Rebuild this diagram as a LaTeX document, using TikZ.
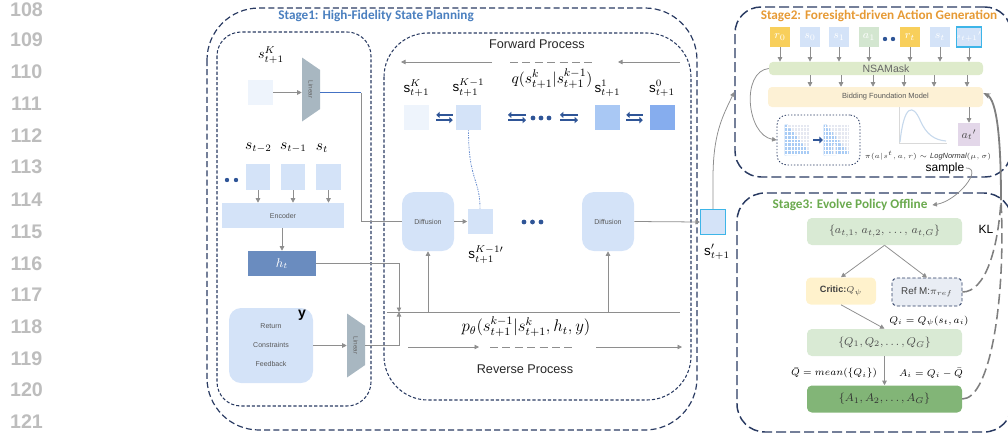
\documentclass[tikz,border=0pt]{standalone}
\usepackage{fontspec}
\setmainfont{Liberation Sans}
\newfontfamily\stagefont{Carlito}
\usepackage{amsmath,amssymb}
\usepackage{xcolor}
\usepackage{tikz}
\usetikzlibrary{arrows.meta,positioning,calc}

\definecolor{framenavy}{HTML}{2A3B62}
\definecolor{linkgray}{HTML}{8E8E8E}
\definecolor{linkblue}{HTML}{4472C4}
\definecolor{lngray}{HTML}{BDBDBD}
\definecolor{paleblue}{HTML}{EEF4FC}
\definecolor{lightblue}{HTML}{D4E3F8}
\definecolor{midblue}{HTML}{A9C8F4}
\definecolor{deepblue}{HTML}{86ADEE}
\definecolor{hblue}{HTML}{6A8CBF}
\definecolor{swapblue}{HTML}{2F5597}
\definecolor{linfill}{HTML}{A8B7C1}
\definecolor{cyanedge}{HTML}{3DB5E8}
\definecolor{tokyellow}{HTML}{F8CF5B}
\definecolor{tokgreen}{HTML}{D3E6D0}
\definecolor{maskgreen}{HTML}{DEEBCB}
\definecolor{bfmyellow}{HTML}{FDF1D5}
\definecolor{actpurple}{HTML}{E3D7E9}
\definecolor{gridgray}{HTML}{E5E8F1}
\definecolor{cellblue}{HTML}{A9CCF5}
\definecolor{criticyellow}{HTML}{FFF2CC}
\definecolor{refgray}{HTML}{E9EDF4}
\definecolor{setgreen}{HTML}{D9EAD4}
\definecolor{advgreen}{HTML}{82B577}
\definecolor{stageone}{HTML}{4A7FBF}
\definecolor{stagetwo}{HTML}{E69A35}
\definecolor{stagethree}{HTML}{6BAA4F}
\definecolor{curveblue}{HTML}{C7D9EC}
\definecolor{fbgray}{HTML}{7F7F7F}

\begin{document}
\begin{tikzpicture}[x=0.25mm, y=-0.25mm,
      font=\fontsize{9}{11}\selectfont,
      >={Triangle[length=3.2pt,width=3.2pt]},
      lnum/.style={font=\fontsize{14}{16}\selectfont\bfseries, text=lngray},
      stagetitle/.style={font=\stagefont\bfseries\fontsize{9.4}{11}\selectfont},
      outerframe/.style={draw=framenavy, line width=0.85pt, dash pattern=on 1.5mm off 0.8mm},
      innerframe/.style={draw=framenavy, line width=0.75pt, dash pattern=on 0.8mm off 0.5mm},
      stageframe/.style={draw=framenavy, line width=1.05pt, dash pattern=on 2.5mm off 1mm},
      sbox/.style={minimum width=6.25mm, minimum height=6.25mm, inner sep=0pt},
      hist/.style={fill=lightblue, minimum width=6.1mm, minimum height=6.5mm, inner sep=0pt},
      block/.style={fill=lightblue, inner sep=0pt, font=\fontsize{5}{6}\selectfont, text=black!65},
      linbox/.style={minimum width=4.5mm, minimum height=16mm, inner sep=0pt,
                     font=\fontsize{4.5}{5}\selectfont, text=black!60,
                     path picture={\fill[linfill] (path picture bounding box.north west)
                       -- ([yshift=-3.1mm]path picture bounding box.north east)
                       -- ([yshift=3.1mm]path picture bounding box.south east)
                       -- (path picture bounding box.south west) -- cycle;}},
      link/.style={draw=linkgray, line width=0.55pt},
      swapline/.style={draw=swapblue, line width=1.5pt, -{Triangle[length=2.4pt,width=4.4pt]}},
      tok/.style={minimum width=5mm, minimum height=5mm, inner sep=0pt, text=white,
                  font=\fontsize{8}{9}\selectfont},
      s3box/.style={fill=setgreen, rounded corners=1.2mm, minimum width=38.75mm,
                    minimum height=6.75mm, font=\fontsize{8}{9}\selectfont, text=black!70},
      eqlabel/.style={font=\fontsize{7}{8}\selectfont, inner sep=1pt},
      fbline/.style={draw=fbgray, line width=1.1pt, dash pattern=on 2.6mm off 1.2mm}]

  \useasboundingbox (0,0) rectangle (1008,438);
  \clip (0,0) rectangle (1008,438);

  % line numbers in the margin
  \node[lnum] (n108) at (26.5,9.5) {108};
  \node[lnum] (n109) at (26.5,40) {109};
  \node[lnum] (n110) at (26.5,71.5) {110};
  \node[lnum] (n111) at (26.5,104) {111};
  \node[lnum] (n112) at (26.5,135.5) {112};
  \node[lnum] (n113) at (26.5,167) {113};
  \node[lnum] (n114) at (26.5,199.5) {114};
  \node[lnum] (n115) at (26.5,232) {115};
  \node[lnum] (n116) at (26.5,264) {116};
  \node[lnum] (n117) at (26.5,295) {117};
  \node[lnum] (n118) at (26.5,326.5) {118};
  \node[lnum] (n119) at (26.5,358.5) {119};
  \node[lnum] (n120) at (26.5,390) {120};
  \node[lnum] (n121) at (26.5,422) {121};

  % ---------------- stage 1 ----------------
  \draw[outerframe, rounded corners=13mm] (207,8) rectangle (697,430);
  \draw[innerframe, rounded corners=6mm] (217,32) rectangle (371,406);
  \draw[innerframe, rounded corners=11mm] (384,33) rectangle (691,400);
  \node[stagetitle, text=stageone] (s1title) at (376,15.5) {Stage1: High-Fidelity State Planning};

  % history encoder column
  \node[font=\fontsize{10}{12}\selectfont] (skinlab) at (271,55) {$s_{t+1}^{K}$};
  \node[sbox, fill=paleblue] (skin) at (260.5,92.5) {};
  \node[linbox] (lin1) at (311,89.5) {\rotatebox{-90}{Linear}};

  \node[font=\fontsize{10.5}{12}\selectfont] (lm2) at (258.5,148) {$s_{t-2}$};
  \node[font=\fontsize{10.5}{12}\selectfont] (lm1) at (293.5,148) {$s_{t-1}$};
  \node[font=\fontsize{10.5}{12}\selectfont] (lm0) at (322,148) {$s_{t}$};
  \node[hist] (hm2) at (258,177) {};
  \node[hist] (hm1) at (293,177) {};
  \node[hist] (hm0) at (328.5,177) {};
  \fill[swapblue] (227,180) circle[radius=0.55mm];
  \fill[swapblue] (236,180) circle[radius=0.55mm];

  \node[block, minimum width=30.5mm, minimum height=6.25mm] (enc) at (283,215.5) {Encoder};
  \node[fill=hblue, minimum width=17mm, minimum height=6.25mm, inner sep=0pt, text=white] (ht) at (282,263.5) {$h_t$};

  \node[block, rounded corners=3mm, minimum width=21mm, minimum height=18.75mm, align=center,
        font=\fontsize{5}{13.5}\selectfont] (ybox) at (271,345.5) {Return\\Constraints\\Feedback};
  \node[font=\bfseries\fontsize{10}{12}\selectfont] (ylab) at (302,315) {y};
  \node[linbox] (lin2) at (356,345.5) {\rotatebox{-90}{Linear}};

  % forward chain
  \node[text=black!85] (fwd) at (537,44) {Forward Process};
  \node[font=\fontsize{11}{13}\selectfont, inner sep=1pt] (qform) at (552,79) {$q(s_{t+1}^{k}|s_{t+1}^{k-1})$};
  \coordinate (fw1a) at (492,62);
  \coordinate (fw1b) at (401,62);
  \coordinate (fw2a) at (510,62);
  \coordinate (fw2b) at (595,62);
  \coordinate (fw3a) at (680,62);
  \coordinate (fw3b) at (618,62);

  \node[sbox, fill=paleblue] (fk) at (416.5,117.5) {};
  \node[sbox, fill=lightblue] (fk1) at (468.5,117.5) {};
  \node[sbox, fill=midblue] (f1) at (607.5,117.5) {};
  \node[sbox, fill=deepblue] (f0) at (662,117.5) {};
  \node[above=1.6mm of fk, font=\fontsize{9.5}{11}\selectfont, inner sep=1pt] (fklab) {$\mathrm{s}_{t+1}^{K}$};
  \node[above=1.6mm of fk1, font=\fontsize{9.5}{11}\selectfont, inner sep=1pt] (fk1lab) {$\mathrm{s}_{t+1}^{K-1}$};
  \node[above=1.6mm of f1, font=\fontsize{9.5}{11}\selectfont, inner sep=1pt] (f1lab) {$\mathrm{s}_{t+1}^{1}$};
  \node[above=1.6mm of f0, font=\fontsize{9.5}{11}\selectfont, inner sep=1pt] (f0lab) {$\mathrm{s}_{t+1}^{0}$};
  \coordinate (ex2l) at (508,117.5);
  \coordinate (ex2r) at (526,117.5);
  \coordinate (ex3l) at (560,117.5);
  \coordinate (ex3r) at (578,117.5);
  \fill[swapblue] (533,118) circle[radius=0.6mm];
  \fill[swapblue] (541,118) circle[radius=0.6mm];
  \fill[swapblue] (549,118) circle[radius=0.6mm];

  % reverse chain
  \node[block, rounded corners=3mm, minimum width=13mm, minimum height=14.75mm] (diff1) at (428,221.5) {Diffusion};
  \node[sbox, fill=lightblue] (smid) at (480,221.5) {};
  \node[font=\fontsize{9.5}{11}\selectfont] (smidlab) at (486,255) {$\mathrm{s}_{t+1}^{K-1\prime}$};
  \fill[swapblue] (524,222) circle[radius=0.6mm];
  \fill[swapblue] (532.5,222) circle[radius=0.6mm];
  \fill[swapblue] (541,222) circle[radius=0.6mm];
  \node[block, rounded corners=3mm, minimum width=13mm, minimum height=14.75mm] (diff2) at (608,221.5) {Diffusion};
  \node[sbox, fill=lightblue, draw=cyanedge, line width=0.8pt] (spr) at (713,222) {};
  \node[font=\fontsize{9.5}{11}\selectfont] (sprlab) at (717,252) {$\mathrm{s}_{t+1}^{\prime}$};

  \coordinate (pl) at (387,312);
  \coordinate (pr) at (680,312);
  \coordinate (pj) at (399,312);
  \node[font=\fontsize{12}{14}\selectfont, inner sep=1pt] (pform) at (526,327) {$p_\theta(s_{t+1}^{k-1}|s_{t+1}^{k},h_t,y)$};
  \node[text=black!85] (rev) at (525,369) {Reverse Process};
  \coordinate (rv1a) at (408,347);
  \coordinate (rv1b) at (479,347);
  \coordinate (rv2a) at (490,347);
  \coordinate (rv2b) at (575,347);
  \coordinate (rv3a) at (596,347);
  \coordinate (rv3b) at (682,347);

  % stage 1 connectors
  \draw[link, ->] (skin.east) -- (skin.east -| lin1.west);
  \coordinate (bend1) at (361,92.5);
  \draw[draw=linkblue, line width=0.6pt] (skin.east -| lin1.east) -- (bend1);
  \draw[link] (bend1) |- (diff1.west);
  \draw[link, ->] (hm2.south) -- (hm2.south |- enc.north);
  \draw[link, ->] (hm1.south) -- (hm1.south |- enc.north);
  \draw[link, ->] (hm0.south) -- (hm0.south |- enc.north);
  \draw[link, ->] (ht.north |- enc.south) -- (ht.north);
  \draw[link, ->] (ybox.east) -- (lin2.west);
  \draw[link, ->] (ht.east) -| (pj);
  \draw[link, ->] (lin2.east) -| (pj);
  \draw[link] (pl) -- (pr);
  \draw[link, ->] (diff1.south |- pl) -- (diff1.south);
  \draw[link, ->] (diff2.south |- pl) -- (diff2.south);
  \draw[link, ->] (diff1.east) -- (smid.west);
  \draw[link, ->] (diff2.east) -- (spr.west);
  \draw[draw=linkblue!80, line width=0.6pt, dash pattern=on 0.6pt off 0.8pt on 1.2pt off 0.8pt]
    (fk1.south) .. controls +(0,50) and +(0,-30) .. (smid.north);

  \draw[link, ->] (fw1a) -- (fw1b);
  \draw[link, dash pattern=on 2mm off 1.1mm] (fw2a) -- (fw2b);
  \draw[link, ->] (fw3a) -- (fw3b);
  \draw[link, ->] (rv1a) -- (rv1b);
  \draw[link, dash pattern=on 2mm off 1.1mm] (rv2a) -- (rv2b);
  \draw[link, ->] (rv3a) -- (rv3b);

  \draw[swapline, shorten <=0.75mm, shorten >=1.75mm] ([yshift=0.65mm]fk1.west) -- ([yshift=0.65mm]fk.east);
  \draw[swapline, shorten <=1.75mm, shorten >=0.75mm] ([yshift=-0.65mm]fk.east) -- ([yshift=-0.65mm]fk1.west);
  \draw[swapline] ([yshift=0.65mm]ex2r) -- ([yshift=0.65mm]ex2l);
  \draw[swapline] ([yshift=-0.65mm]ex2l) -- ([yshift=-0.65mm]ex2r);
  \draw[swapline] ([yshift=0.65mm]ex3r) -- ([yshift=0.65mm]ex3l);
  \draw[swapline] ([yshift=-0.65mm]ex3l) -- ([yshift=-0.65mm]ex3r);
  \draw[swapline, shorten <=1.6mm, shorten >=1.5mm] ([yshift=0.65mm]f0.west) -- ([yshift=0.65mm]f1.east);
  \draw[swapline, shorten <=1.5mm, shorten >=1.6mm] ([yshift=-0.65mm]f1.east) -- ([yshift=-0.65mm]f0.west);

  % ---------------- stage 2 ----------------
  \node[stageframe, rounded corners=6.5mm, minimum width=69mm, minimum height=42.5mm] (stage2) at (873,92) {};
  \node[stagetitle, text=stagetwo] (s2title) at (879,15.5) {Stage2: Foresight-driven Action Generation};

  \node[tok, fill=tokyellow] (r0tok) at (780,37) {$r_0$};
  \node[tok, fill=lightblue] (s0tok) at (810,37) {$s_0$};
  \node[tok, fill=lightblue] (s1tok) at (839,37) {$s_1$};
  \node[tok, fill=tokgreen] (a1tok) at (869,37) {$a_1$};
  \fill[swapblue] (885,39) circle[radius=0.55mm];
  \fill[swapblue] (893,39) circle[radius=0.55mm];
  \node[tok, fill=tokyellow] (rttok) at (910,37) {$r_t$};
  \node[tok, fill=lightblue] (sttok) at (940,37) {$s_t$};
  \node[tok, fill=lightblue, draw=cyanedge, line width=0.8pt, font=\fontsize{4.5}{5}\selectfont] (sntok) at (969,37) {$s_{t+1}{}'$};

  \node[fill=maskgreen, rounded corners=1mm, minimum width=53.5mm, minimum height=3.3mm, inner sep=0pt,
        font=\fontsize{7.5}{8}\selectfont, text=black!60] (nsa) at (876,68.5) {\hspace*{5mm}NSAMask};
  \node[fill=bfmyellow, rounded corners=1mm, minimum width=53.75mm, minimum height=5mm, inner sep=0pt,
        font=\fontsize{5.3}{6}\selectfont, text=black!65] (bfm) at (875.5,97) {\hspace*{5mm}Bidding Foundation Model};
  \node[fill=actpurple, minimum width=5.5mm, minimum height=5.75mm, inner sep=0pt,
        font=\fontsize{8}{9}\selectfont, text=black!70] (act) at (969,134.5) {$a_t{}'$};

  \draw[link, ->] (r0tok.south) -- (r0tok.south |- nsa.north);
  \draw[link, ->] (s0tok.south) -- (s0tok.south |- nsa.north);
  \draw[link, ->] (s1tok.south) -- (s1tok.south |- nsa.north);
  \draw[link, ->] (a1tok.south) -- (a1tok.south |- nsa.north);
  \draw[link, ->] (rttok.south) -- (rttok.south |- nsa.north);
  \draw[link, ->] (sttok.south) -- (sttok.south |- nsa.north);
  \draw[link, ->] (sntok.south) -- (sntok.south |- nsa.north);
  \draw[link, ->] (s0tok.south |- nsa.south) -- (s0tok.south |- bfm.north);
  \draw[link, ->] ($(s1tok.south |- nsa.south)+(2,0)$) -- ($(s1tok.south |- bfm.north)+(2,0)$);
  \draw[link, ->] ($(a1tok.south |- nsa.south)+(4,0)$) -- ($(a1tok.south |- bfm.north)+(4,0)$);
  \draw[link, ->] ($(rttok.south |- nsa.south)+(-6,0)$) -- ($(rttok.south |- bfm.north)+(-6,0)$);
  \draw[link, ->] ($(sttok.south |- nsa.south)+(-6,0)$) -- ($(sttok.south |- bfm.north)+(-6,0)$);
  \draw[link, ->] ($(sntok.south |- nsa.south)+(-2,0)$) -- ($(sntok.south |- bfm.north)+(-2,0)$);
  \draw[link, ->] (act.north |- bfm.south) -- (act.north);

  % attention masks
  \node[draw=framenavy, line width=0.6pt, dash pattern=on 0.35mm off 0.45mm, rounded corners=2.5mm,
        minimum width=20.75mm, minimum height=12.5mm] (mbox) at (818.5,140) {};
  \node[fill=gridgray, minimum width=6.25mm, minimum height=7.5mm, inner sep=0pt] (mk1) at (797.5,140) {};
  \node[fill=gridgray, minimum width=6.25mm, minimum height=7.5mm, inner sep=0pt] (mk2) at (836.5,140) {};
  \fill[cellblue] (mk1.north west) -- ++(3.125,0) -- ++(0,3.75) -- ++(3.125,0) -- ++(0,3.75)
    -- ++(3.125,0) -- ++(0,3.75) -- ++(3.125,0) -- ++(0,3.75) -- ++(3.125,0) -- ++(0,3.75)
    -- ++(3.125,0) -- ++(0,3.75) -- ++(3.125,0) -- ++(0,3.75) -- ++(3.125,0) -- ++(0,3.75)
    -- (mk1.south west) -- cycle;
  \fill[cellblue] (mk2.north west) -- ++(3.125,0) -- ++(0,3.75) -- ++(3.125,0) -- ++(0,3.75)
    -- ++(3.125,0) -- ++(0,3.75) -- ++(3.125,0) -- ++(0,3.75) -- ++(3.125,0) -- ++(0,3.75)
    -- ++(3.125,0) -- ++(0,3.75) -- ++(3.125,0) -- ++(0,3.75) -- ++(3.125,0) -- ++(0,3.75)
    -- (mk2.south west) -- cycle;
  \fill[gridgray] ($(mk2.south west)+(9.4,0)$) rectangle ($(mk2.south west)+(12.5,-11)$);
  \draw[white, line width=0.2pt, xstep=0.78125mm, ystep=0.9375mm] (mk1.south west) grid (mk1.north east);
  \draw[white, line width=0.2pt, xstep=0.78125mm, ystep=0.9375mm] (mk2.south west) grid (mk2.north east);
  \draw[swapblue, line width=1.8pt, -{Triangle[length=2.5pt,width=4.8pt]}, shorten <=0.75mm, shorten >=0.2mm]
    (mk1.east) -- (mk2.west);
  \draw[link, ->] (nsa.west) .. controls +(-28,3) and +(-30,-5) .. (mbox.west);

  % sampling distribution
  \draw[draw=black!15, line width=0.5pt] (899,107) -- (899,143) -- (947,143);
  \draw[curveblue, line width=0.8pt] (900,142) .. controls (904,104) and (913,104) .. (920,120)
    .. controls (926,134) and (934,140) .. (946,141);
  \node[font=\fontsize{5.3}{6.5}\selectfont, text=black!80, inner sep=1pt] (pilab) at (928,156)
    {$\pi(a|s^t,a,r)\sim \mathit{LogNormal}(\mu,\sigma)$};
  \node[font=\fontsize{8.5}{10}\selectfont, inner sep=1pt] (sample) at (945,168) {sample};

  \draw[link, ->] (spr.north) -- ++(0,-30) .. controls +(0,-45) and +(-12,25) .. (stage2.west);

  % ---------------- stage 3 ----------------
  \draw[stageframe, rounded corners=7mm] (737,193) rectangle (1012,432);
  \node[stagetitle, text=stagethree] (s3title) at (850,205) {Stage3: Evolve Policy Offline};
  \node[s3box] (aset) at (884.5,231.5) {$\{a_{t,1},\, a_{t,2},\, \ldots,\, a_{t,G}\}$};
  \node[fill=criticyellow, rounded corners=1.2mm, minimum width=17.5mm, minimum height=6.75mm,
        font=\bfseries\fontsize{6.5}{8}\selectfont, text=black!75] (critic) at (841,291) {Critic:$Q_\psi$};
  \node[fill=refgray, draw=framenavy, dash pattern=on 0.8mm off 0.5mm, line width=0.6pt, rounded corners=1.2mm,
        minimum width=17.5mm, minimum height=7mm, font=\fontsize{7}{8}\selectfont, text=black!75] (refm) at (927,292)
        {Ref M:$\pi_{ref}$};
  \node[s3box] (qset) at (884.5,342.5) {$\{Q_1, Q_2, \ldots, Q_G\}$};
  \node[s3box, fill=advgreen, text=black!80] (aadv) at (884.5,399) {$\{A_1, A_2, \ldots, A_G\}$};
  \node[eqlabel] (qeq) at (929,321) {$Q_i = Q_\psi(s_t, a_i)$};
  \node[eqlabel] (qbar) at (834,373) {$\bar{Q} = mean(\{Q_i\})$};
  \node[eqlabel] (aeq) at (931,373) {$A_i = Q_i - \bar{Q}$};
  \node[font=\fontsize{8.5}{10}\selectfont] (kl) at (986,229) {KL};

  \draw[link, ->] (aset.south) -- (critic.north);
  \draw[link, ->] (aset.south) -- (refm.north);
  \draw[link, ->] (critic.south) -- (qset.north);
  \draw[link, ->] (qset.south) -- (aadv.north);
  \draw[link, ->] (sample.east) .. controls +(18,0) and +(25,-4) .. (s3title.east);

  % feedback to the foundation model
  \coordinate (fbjoin) at (1001,200);
  \draw[fbline] (refm.east) .. controls (985,292) and (998,250) .. (fbjoin);
  \draw[fbline] (aadv.east) .. controls (990,399) and (1006,300) .. (fbjoin);
  \draw[draw=fbgray, line width=1.3pt, -{Stealth[length=5pt,width=4pt]}]
    (fbjoin) .. controls (1001,140) and (997,100) .. ([yshift=1mm]bfm.east);
\end{tikzpicture}
\end{document}
